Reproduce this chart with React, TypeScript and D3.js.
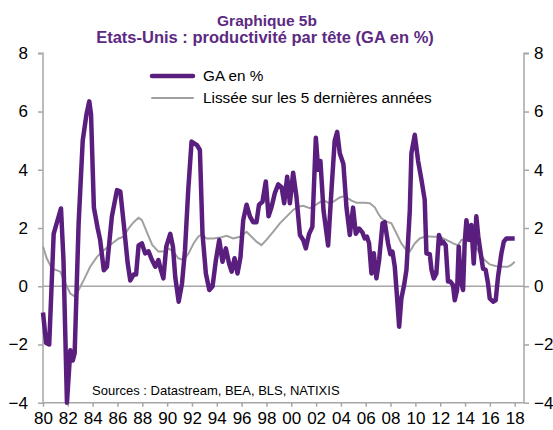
import React, { useRef, useEffect } from "react";
import * as d3 from "d3";

// GA en % (dates en années décimales)
const gaDates = [
  1980.0, 1980.25, 1980.5, 1980.86, 1981.1, 1981.45, 1981.65, 1981.93, 1982.2, 1982.4,
  1982.55, 1982.87, 1983.2, 1983.5, 1983.73, 1983.87, 1984.1, 1984.4, 1984.6, 1984.9,
  1985.15, 1985.55, 1985.96, 1986.23, 1986.5, 1986.82, 1987.03, 1987.3, 1987.5, 1987.7,
  1987.97, 1988.23, 1988.5, 1988.78, 1989.05, 1989.3, 1989.5, 1989.7, 1989.93, 1990.25,
  1990.47, 1990.65, 1990.93, 1991.2, 1991.44, 1991.7, 1991.97, 1992.4, 1992.64, 1992.85,
  1993.12, 1993.4, 1993.66, 1993.93, 1994.2, 1994.46, 1994.73, 1994.99, 1995.2, 1995.43,
  1995.67, 1995.91, 1996.13, 1996.4, 1996.67, 1996.93, 1997.2, 1997.4, 1997.68, 1997.95,
  1998.17, 1998.4, 1998.68, 1998.95, 1999.22, 1999.43, 1999.67, 1999.89, 2000.15, 2000.42,
  2000.7, 2000.96, 2001.17, 2001.44, 2001.7, 2001.98, 2002.17, 2002.35, 2002.6, 2002.97,
  2003.24, 2003.5, 2003.7, 2003.91, 2004.2, 2004.45, 2004.72, 2004.98, 2005.2, 2005.47,
  2005.73, 2005.92, 2006.1, 2006.27, 2006.46, 2006.65, 2006.86, 2007.08, 2007.35, 2007.53,
  2007.8, 2007.99, 2008.15, 2008.34, 2008.52, 2008.69, 2008.87, 2009.09, 2009.28, 2009.55,
  2009.68, 2009.95, 2010.22, 2010.49, 2010.75, 2010.89, 2011.16, 2011.3, 2011.48, 2011.69,
  2011.9, 2012.1, 2012.23, 2012.44, 2012.63, 2012.82, 2013.03, 2013.17, 2013.36, 2013.49,
  2013.65, 2013.84, 2013.97, 2014.11, 2014.32, 2014.51, 2014.7, 2014.91, 2015.07, 2015.24,
  2015.45, 2015.66, 2015.85, 2015.99, 2016.26, 2016.47, 2016.66, 2016.93, 2017.12, 2017.33,
  2018.0,
];
const gaValues = [
  -0.9, -1.95, -2.0, 1.8, 2.16, 2.67, 0.9, -4.0, -2.2, -2.55,
  -2.3, 2.16, 5.0, 5.9, 6.35, 5.9, 2.7, 2.0, 1.6, 0.55,
  0.67, 2.4, 3.3, 3.25, 2.16, 0.8, 0.2, 0.4, 0.4, 1.4,
  1.47, 1.13, 1.2, 0.9, 0.67, 0.9, 0.55, 0.27, 1.36, 1.8,
  1.36, 0.33, -0.53, 0.1, 1.24, 3.3, 4.97, 4.85, 4.68, 1.8,
  0.44, -0.13, 0.0, 0.9, 1.59, 0.84, 1.3, 0.78, 0.5, 0.96,
  0.44, 1.0, 2.27, 2.8, 2.4, 2.2, 2.2, 2.8, 2.9, 3.6,
  2.4, 2.7, 3.2, 3.5, 3.4, 2.85, 3.76, 2.85, 3.9, 3.07,
  1.76, 1.59, 1.3, 1.8, 2.04, 5.1, 4.0, 4.3, 2.6, 1.4,
  3.3, 5.0, 5.3, 4.57, 4.2, 2.7, 1.76, 2.7, 1.8, 1.98,
  1.85, 1.64, 1.7, 1.47, 0.44, 1.13, 0.27, 0.9, 2.16, 2.2,
  1.47, 1.1, 1.19, 0.67, -0.36, -1.39, -0.42, 0.04, 0.56, 2.6,
  4.57, 5.2, 4.3, 3.65, 2.97, 1.13, 1.1, 0.56, 0.27, 0.44,
  1.76, 1.47, 1.53, 1.41, 0.16, 0.16, 0.04, -0.48, -0.13, 1.36,
  0.2, -0.13, 1.47, 2.27, 1.59, 2.1, 0.78, 2.4, 1.7, 1.19,
  0.6, 0.56, 0.1, -0.42, -0.53, -0.48, 0.33, 1.13, 1.53, 1.64,
  1.64,
];

// Lissée sur les 5 dernières années
const lisseeDates = [
  1980.0, 1980.3, 1980.72, 1981.4, 1981.8, 1982.2, 1982.6, 1982.87, 1983.28, 1983.8,
  1984.35, 1984.9, 1985.56, 1986.1, 1986.5, 1986.9, 1987.3, 1987.7, 1987.97, 1988.4,
  1988.8, 1989.3, 1989.72, 1990.1, 1990.5, 1990.9, 1991.33, 1991.73, 1992.13, 1992.5,
  1992.8, 1993.18, 1993.72, 1994.25, 1994.79, 1995.32, 1995.86, 1996.4, 1996.8, 1997.2,
  1997.6, 1998.0, 1998.54, 1999.08, 1999.62, 2000.15, 2000.56, 2000.96, 2001.5, 2002.03,
  2002.57, 2002.97, 2003.38, 2003.9, 2004.3, 2004.85, 2005.25, 2005.92, 2006.33, 2006.73,
  2007.0, 2007.26, 2007.67, 2008.07, 2008.47, 2008.87, 2009.28, 2009.55, 2009.95, 2010.35,
  2010.89, 2011.42, 2011.96, 2012.5, 2013.04, 2013.44, 2013.71, 2014.11, 2014.38, 2014.78,
  2015.18, 2015.58, 2015.99, 2016.52, 2017.06, 2017.46, 2017.73, 2018.0,
];
const lisseeValues = [
  1.36, 0.96, 0.61, 0.5, 0.1, -0.25, -0.36, -0.13, 0.21, 0.67,
  1.01, 1.24, 1.47, 1.64, 1.7, 1.99, 2.2, 2.35, 2.27, 1.82,
  1.42, 1.19, 1.19, 1.3, 1.19, 0.96, 0.9, 1.13, 1.47, 1.7,
  1.78, 1.64, 1.64, 1.67, 1.73, 1.64, 1.7, 1.87, 1.7, 1.53,
  1.41, 1.59, 1.87, 2.16, 2.39, 2.62, 2.73, 2.76, 2.68, 2.81,
  2.96, 2.87, 2.9, 3.05, 3.1, 2.94, 2.87, 2.87, 2.85, 2.71,
  2.5, 2.33, 2.22, 2.16, 1.82, 1.47, 1.24, 1.19, 1.47, 1.64,
  1.72, 1.7, 1.7, 1.59, 1.47, 1.41, 1.59, 1.61, 1.64, 1.41,
  1.13, 0.9, 0.75, 0.69, 0.67, 0.67, 0.73, 0.84,
];

const yTicks = [-4, -2, 0, 2, 4, 6, 8];
const xTicks = d3.range(1980, 2019, 2);

const PURPLE = "#5a1f7e";
const GREY = "#a0a0a0";
const AXIS = "#a6a6a6";
const FONT = "Liberation Sans, Arial, sans-serif";

const App = () => {
  const ref = useRef<HTMLDivElement>(null);

  useEffect(() => {
    const width = 553;
    const height = 430;

    const svg = d3
      .select(ref.current)
      .append("svg")
      .attr("width", width)
      .attr("height", height)
      .style("font-family", FONT);

    const x = d3.scaleLinear().domain([1980, 2018.75]).range([43, 524]);
    const y = d3.scaleLinear().domain([-4, 8]).range([402.7, 53.3]);

    // titre
    svg
      .append("text")
      .attr("x", 267)
      .attr("y", 26)
      .attr("text-anchor", "middle")
      .attr("font-size", "15.5px")
      .attr("font-weight", "bold")
      .attr("fill", "#5c2a82")
      .text("Graphique 5b");
    svg
      .append("text")
      .attr("x", 265)
      .attr("y", 43)
      .attr("text-anchor", "middle")
      .attr("font-size", "16.5px")
      .attr("font-weight", "bold")
      .attr("fill", "#5c2a82")
      .text("Etats-Unis : productivité par tête (GA en %)");

    // axes
    const leftAxis = svg
      .append("g")
      .attr("transform", `translate(${x.range()[0]},0)`)
      .call(d3.axisLeft(y).tickValues(yTicks).tickSize(5).tickPadding(10));
    const rightAxis = svg
      .append("g")
      .attr("transform", `translate(${x.range()[1]},0)`)
      .call(d3.axisRight(y).tickValues(yTicks).tickSize(5).tickPadding(5));
    const bottomAxis = svg
      .append("g")
      .attr("transform", `translate(0,${y(-4)})`)
      .call(
        d3
          .axisBottom(x)
          .tickValues(xTicks)
          .tickSize(4)
          .tickPadding(5)
          .tickFormat((d) => String(d).slice(2))
      );
    [leftAxis, rightAxis, bottomAxis].forEach((g) => {
      g.select(".domain").attr("stroke", AXIS).attr("stroke-width", 1.5);
      g.selectAll(".tick line").attr("stroke", AXIS).attr("stroke-width", 1.5);
      g.selectAll(".tick text")
        .attr("fill", "#000")
        .attr("font-size", "17px")
        .style("font-family", FONT);
    });
    rightAxis.select(".domain").attr("d", `M5,${y(8)}H0V${y(-4)}`);
    leftAxis.select(".domain").attr("d", `M-5,${y(8)}H0V${y(-4)}`);
    bottomAxis.select(".domain").attr("d", `M${x.range()[0]},0H${x.range()[1]}`);

    // ligne zéro
    svg
      .append("line")
      .attr("x1", x.range()[0])
      .attr("x2", x.range()[1])
      .attr("y1", y(0))
      .attr("y2", y(0))
      .attr("stroke", AXIS)
      .attr("stroke-width", 1.5);

    const line = d3
      .line<[number, number]>()
      .x((d) => x(d[0]))
      .y((d) => y(d[1]));

    const ga = gaDates.map((d, i) => [d, gaValues[i]] as [number, number]);
    const lissee = lisseeDates.map((d, i) => [d, lisseeValues[i]] as [number, number]);

    svg
      .append("path")
      .attr("d", line(lissee))
      .attr("fill", "none")
      .attr("stroke", GREY)
      .attr("stroke-width", 2);

    svg
      .append("path")
      .attr("d", line(ga))
      .attr("fill", "none")
      .attr("stroke", PURPLE)
      .attr("stroke-width", 4.5)
      .attr("stroke-linejoin", "round");

    // légende
    const legend = [
      { label: "GA en %", color: PURPLE, w: 4.5, yy: 76 },
      { label: "Lissée sur les 5 dernières années", color: GREY, w: 2, yy: 98 },
    ];
    legend.forEach((l) => {
      svg
        .append("line")
        .attr("x1", 152)
        .attr("x2", 193)
        .attr("y1", l.yy)
        .attr("y2", l.yy)
        .attr("stroke", l.color)
        .attr("stroke-width", l.w)
        .attr("stroke-linecap", "round");
      svg
        .append("text")
        .attr("x", 203)
        .attr("y", l.yy)
        .attr("dy", "0.35em")
        .attr("font-size", "15.3px")
        .attr("fill", "#000")
        .text(l.label);
    });

    // sources
    svg
      .append("text")
      .attr("x", 92)
      .attr("y", 395)
      .attr("font-size", "13px")
      .attr("fill", "#000")
      .text("Sources : Datastream, BEA, BLS, NATIXIS");

    return () => {
      svg.remove();
    };
  }, []);

  return <div ref={ref} style={{ position: "absolute", left: 0, top: 0 }}></div>;
};

export default App;
